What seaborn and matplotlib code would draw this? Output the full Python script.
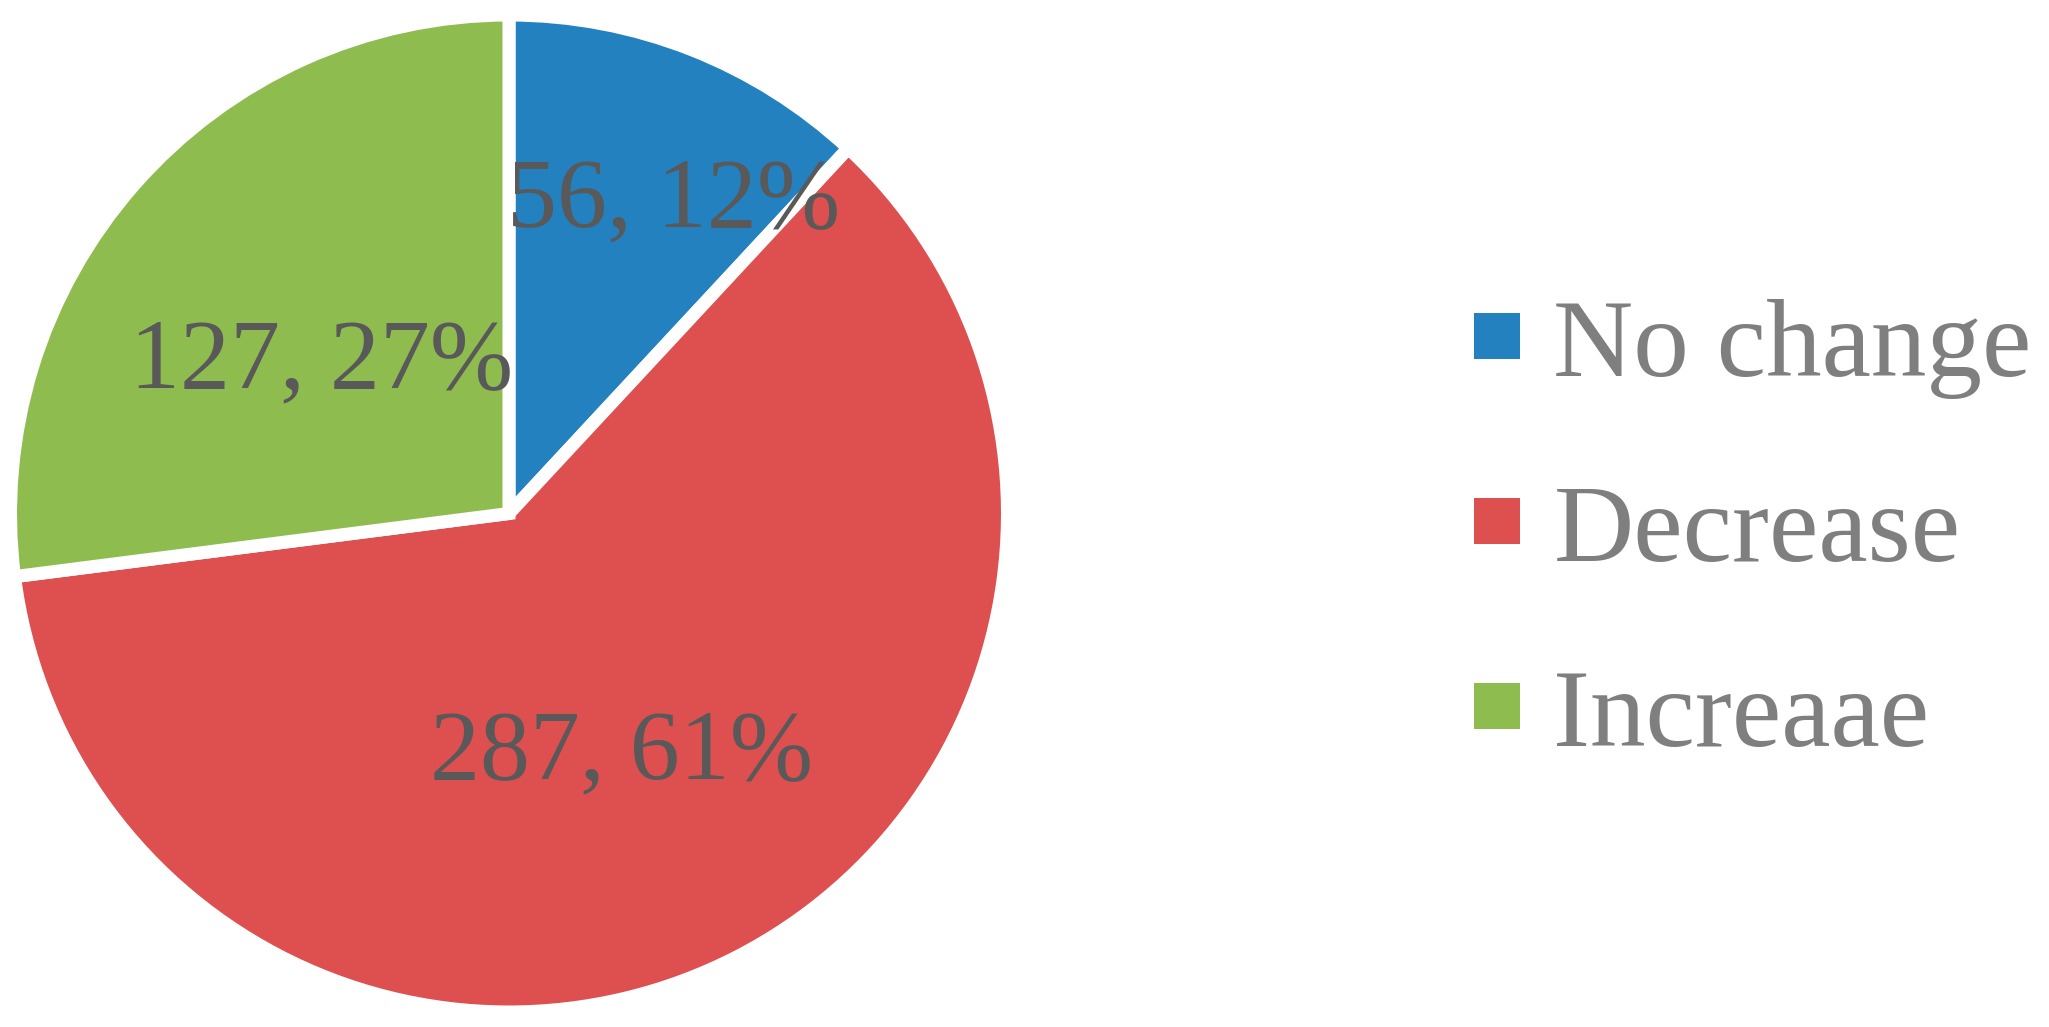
import matplotlib
matplotlib.use("Agg")
import matplotlib.pyplot as plt
import seaborn as sns
from matplotlib.patches import Patch

categories = ["No change", "Decrease", "Increaae"]
counts = [56, 287, 127]
percents = [12, 61, 27]
colors = ["#2481C0", "#DE4F4F", "#8FBC4F"]

sns.set_theme(style="white")
plt.rcParams["font.family"] = ["Liberation Serif", "DejaVu Serif"]

W, H = 2049, 1027
fig = plt.figure(figsize=(W / 100, H / 100), dpi=100)
ax = fig.add_axes([0, 0, 1, 1])

cx, cy, r = 509, H - 513.5, 498.5
wedges, _ = ax.pie(counts, colors=colors, startangle=90, counterclock=False,
                   center=(cx, cy), radius=r, frame=True,
                   wedgeprops=dict(edgecolor="white", linewidth=9.4))
ax.set_xlim(0, W)
ax.set_ylim(0, H)
ax.axis("off")

label_pos = [(674, H - 226), (621, H - 778), (322, H - 387)]
for (x, y), c, p in zip(label_pos, counts, percents):
    ax.text(x, y, f"{c}, {p}%", ha="center", va="baseline",
            fontsize=72, color="#595959")

handles = [Patch(facecolor=col, edgecolor="none") for col in colors]
leg = ax.legend(handles, categories, loc="center left",
                bbox_to_anchor=(1474, H - 534), bbox_transform=ax.transData,
                frameon=False, fontsize=80, handlelength=0.414, handleheight=0.26,
                handletextpad=0.3, labelspacing=0.77, borderpad=0, borderaxespad=0)
for t in leg.get_texts():
    t.set_color("#7F7F7F")

fig.savefig("out.png", dpi=100, facecolor="white")
